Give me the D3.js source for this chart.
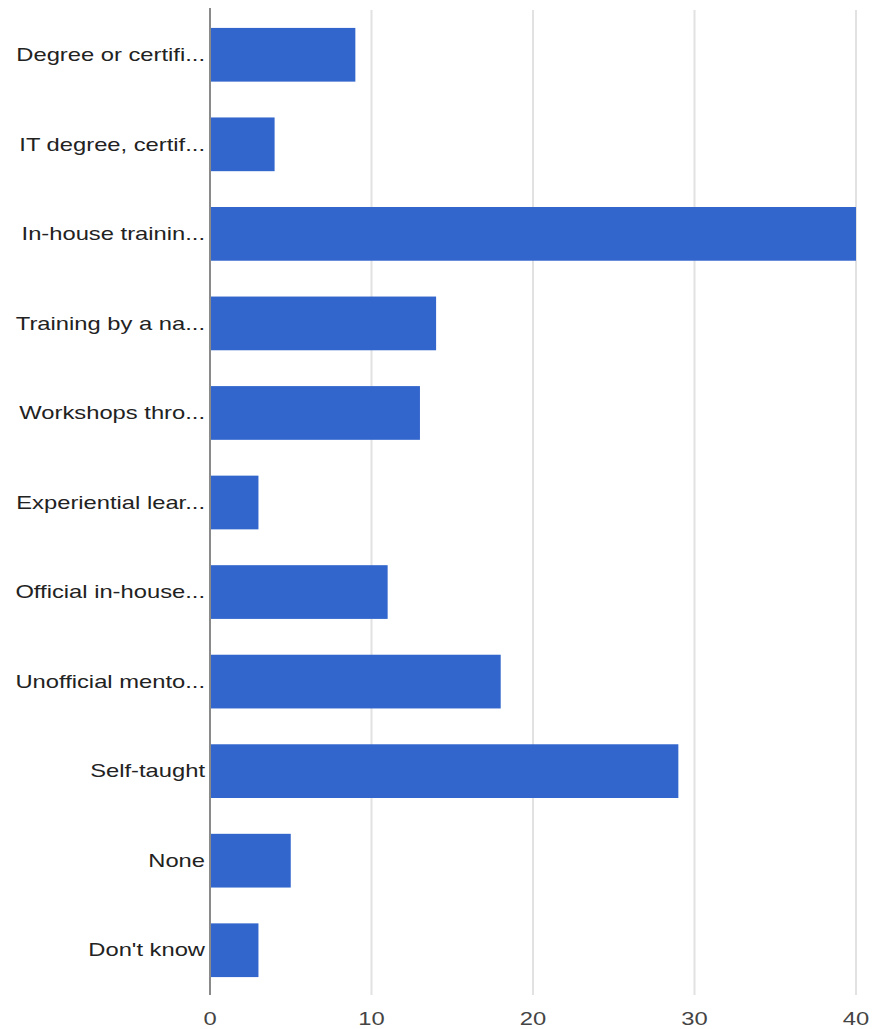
<!DOCTYPE html>
<html>
<head>
<meta charset="utf-8">
<script src="https://cdn.jsdelivr.net/npm/d3@7"></script>
<style>
html,body{margin:0;padding:0;background:#fff;}
svg{display:block;font-family:"Liberation Sans",Arial,sans-serif;}
</style>
</head>
<body>
<svg id="chart" width="877" height="1029"></svg>
<script>
const categories = ["Degree or certifi...","IT degree, certif...","In-house trainin...","Training by a na...","Workshops thro...","Experiential lear...","Official in-house...","Unofficial mento...","Self-taught","None","Don't know"];
const values = [9,4,40,14,13,3,11,18,29,5,3];
const tickValues = [0,10,20,30,40];

const svg = d3.select("#chart");
const margin = {top:10, right:21, bottom:34, left:210};
const W = 877, H = 1029;
const x = d3.scaleLinear().domain([0,40]).range([margin.left, W - margin.right]);
const y = d3.scaleBand().domain(categories).range([margin.top, H - margin.bottom]).paddingInner(0.4).paddingOuter(0.2);
const sx = 1.25;

// gridlines
svg.append("g").selectAll("line").data(tickValues.filter(d=>d!==0)).join("line")
  .attr("x1", d=>x(d)).attr("x2", d=>x(d))
  .attr("y1", margin.top).attr("y2", H - margin.bottom)
  .attr("stroke", "#e2e2e2").attr("stroke-width", 2);

// bars
svg.append("g").selectAll("rect").data(categories).join("rect")
  .attr("x", x(0))
  .attr("y", d=>y(d))
  .attr("width", (d,i)=>x(values[i]) - x(0))
  .attr("height", y.bandwidth())
  .attr("fill", "#3366cc");

// baseline
svg.append("line")
  .attr("x1", x(0)).attr("x2", x(0))
  .attr("y1", margin.top - 2).attr("y2", H - margin.bottom)
  .attr("stroke", "#8a8a8a").attr("stroke-width", 2);

// category labels
svg.append("g").selectAll("text").data(categories).join("text")
  .attr("transform", d=>`translate(${x(0)-5},${y(d)+y.bandwidth()/2}) scale(${sx},1)`)
  .attr("text-anchor","end")
  .attr("dominant-baseline","central")
  .attr("font-size", 19)
  .attr("fill", "#222")
  .text(d=>d);

// x tick labels
svg.append("g").selectAll("text").data(tickValues).join("text")
  .attr("transform", d=>`translate(${x(d)},${1019}) scale(${sx},1)`)
  .attr("text-anchor","middle")
  .attr("dominant-baseline","central")
  .attr("font-size", 19)
  .attr("fill", "#444")
  .text(d=>d);
</script>
</body>
</html>
